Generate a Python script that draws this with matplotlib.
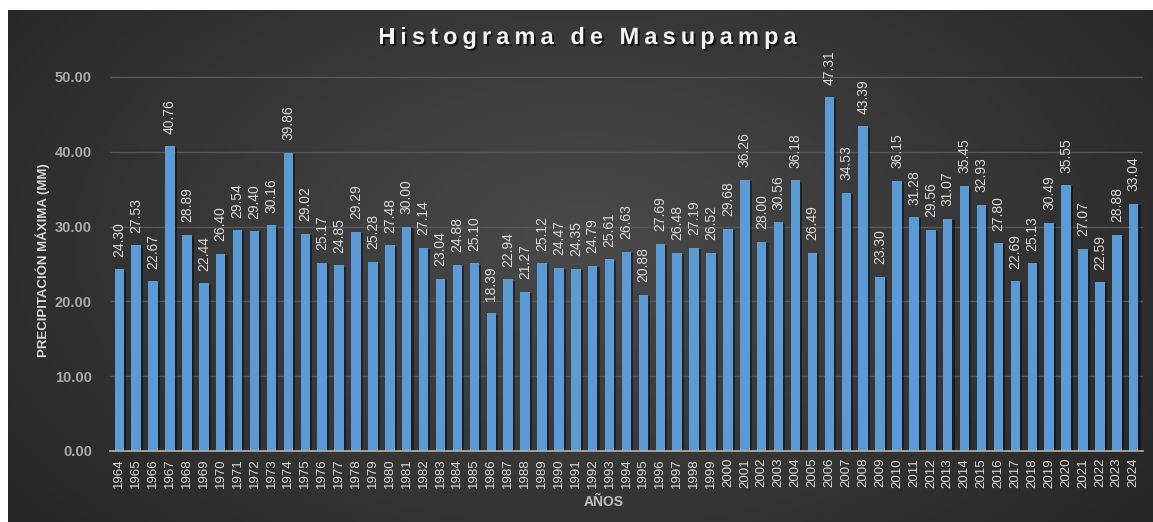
import numpy as np
import matplotlib
matplotlib.use("Agg")
import matplotlib.pyplot as plt
import matplotlib.patheffects as pe

years = list(range(1964, 2025))
values = [24.30, 27.53, 22.67, 40.76, 28.89, 22.44, 26.40, 29.54, 29.40, 30.16,
          39.86, 29.02, 25.17, 24.85, 29.29, 25.28, 27.48, 30.00, 27.14, 23.04,
          24.88, 25.10, 18.39, 22.94, 21.27, 25.12, 24.47, 24.35, 24.79, 25.61,
          26.63, 20.88, 27.69, 26.48, 27.19, 26.52, 29.68, 36.26, 28.00, 30.56,
          36.18, 26.49, 47.31, 34.53, 43.39, 23.30, 36.15, 31.28, 29.56, 31.07,
          35.45, 32.93, 27.80, 22.69, 25.13, 30.49, 35.55, 27.07, 22.59, 28.88,
          33.04]
yticks = [0, 10, 20, 30, 40, 50]
title = "Histograma de Masupampa"
xlabel = "AÑOS"
ylabel = "PRECIPITACIÓN MÁXIMA (MM)"

plt.rcParams['font.family'] = ['Liberation Sans', 'DejaVu Sans']

W, H = 1153, 522
fig = plt.figure(figsize=(W / 100, H / 100), dpi=100)
fig.patch.set_facecolor("white")

# background with radial gradient
bg = fig.add_axes([8 / W, 0, 1 - 8 / W, 1 - 10 / H])
bg.set_axis_off()
ny, nx = 200, 440
yy, xx = np.mgrid[0:ny, 0:nx]
cx, cy = nx * 0.5, ny * 0.45
r = np.sqrt(((xx - cx) / (nx * 0.62)) ** 2 + ((yy - cy) / (ny * 0.85)) ** 2)
r = np.clip(r, 0, 1)
c_in = np.array([0x4a, 0x4a, 0x4a]) / 255
c_out = np.array([0x27, 0x27, 0x27]) / 255
img = c_in[None, None, :] * (1 - r[..., None]) + c_out[None, None, :] * r[..., None]
bg.imshow(img, aspect="auto", extent=[0, 1, 0, 1], interpolation="bilinear")
bg.set_xlim(0, 1)
bg.set_ylim(0, 1)

ax = fig.add_axes([110 / W, 71 / H, (1143 - 110) / W, (451 - 39.6) / H])
ax.patch.set_alpha(0)
x = np.arange(len(years))
bars = ax.bar(x, values, width=0.56, color="#5B9BD5", linewidth=0, zorder=3)
for b in bars:
    b.set_path_effects([pe.SimplePatchShadow(offset=(1.5, -1.0), shadow_rgbFace="black", alpha=0.45), pe.Normal()])

ax.set_xlim(-0.55, len(years) - 0.45)
ax.set_ylim(0, 55)
ax.set_yticks(yticks)
ax.set_yticklabels([f"{v:.2f}" for v in yticks], fontsize=10.5, fontweight="bold", color="#aaaaaa")
ax.set_xticks(x)
ax.set_xticklabels([str(y) for y in years], rotation=90, fontsize=9.5, color="#d9d9d9")
ax.tick_params(axis="both", length=0)
ax.tick_params(axis="y", pad=13)
ax.tick_params(axis="x", pad=5)
ax.grid(axis="y", color="#575757", linewidth=1, zorder=0)
for s in ["top", "right", "left"]:
    ax.spines[s].set_visible(False)
ax.spines["bottom"].set_color("#b5b0a8")
ax.spines["bottom"].set_linewidth(1.2)
ax.spines["bottom"].set_zorder(4)

for xi, v in zip(x, values):
    ax.annotate(f"{v:.2f}", (xi, v), xytext=(0, 9), textcoords="offset points",
                rotation=90, ha="center", va="bottom", fontsize=10, color="#d9d9d9",
                annotation_clip=False)

fig.text(43 / W, 1 - 260 / H, ylabel, rotation=90, ha="center", va="center",
         fontsize=9.5, fontweight="bold", color="#d9d9d9")
fig.text(604 / W, 1 - 502 / H, xlabel, ha="center", va="center",
         fontsize=10, fontweight="bold", color="#bfbfbf")

# title with letter spacing
fig.canvas.draw()
renderer = fig.canvas.get_renderer()
fs = 17
spacing = 5.0
widths = []
for ch in title:
    if ch == " ":
        t2 = fig.text(0, 0, "n n", fontsize=fs, fontweight="bold")
        t3 = fig.text(0, 0, "nn", fontsize=fs, fontweight="bold")
        w = t2.get_window_extent(renderer).width - t3.get_window_extent(renderer).width
        t2.remove(); t3.remove()
    else:
        t = fig.text(0, 0, ch, fontsize=fs, fontweight="bold")
        w = t.get_window_extent(renderer).width
        t.remove()
    widths.append(w)
total = sum(widths) + spacing * (len(title) - 1)
xpos = 587.5 - total / 2
ybase = H - 44
for ch, w in zip(title, widths):
    if ch != " ":
        fig.text(xpos / W, ybase / H, ch, fontsize=fs, fontweight="bold", color="#f2f2f2",
                 ha="left", va="baseline",
                 path_effects=[pe.withSimplePatchShadow(offset=(1.5, -1.5), shadow_rgbFace="black", alpha=0.6)])
    xpos += w + spacing

fig.savefig("out.png", dpi=100, facecolor=fig.get_facecolor())
